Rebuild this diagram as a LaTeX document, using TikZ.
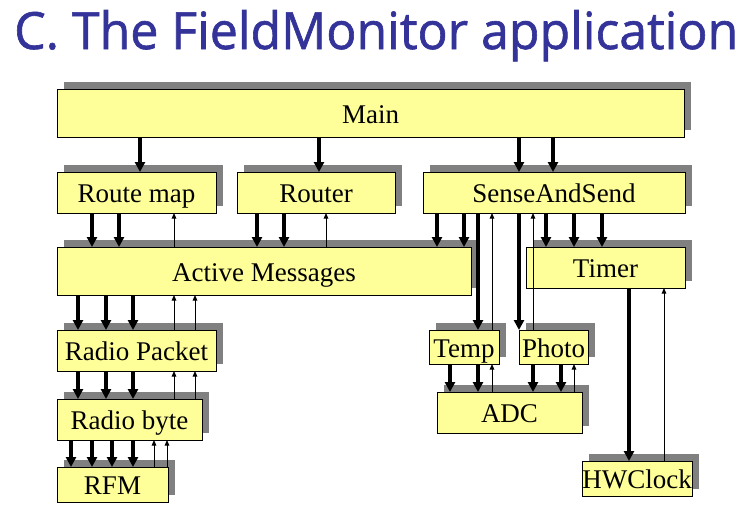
\documentclass[tikz,border=0pt]{standalone}
\usepackage{fontspec}
\setmainfont{Liberation Serif}
\newfontfamily\titlefont[FakeBold=1.2]{Open Sans}
\usetikzlibrary{arrows.meta,shadows}
\definecolor{boxyellow}{RGB}{255,255,153}
\definecolor{shadowgray}{RGB}{128,128,128}
\definecolor{titleblue}{RGB}{51,51,153}
\begin{document}
\begin{tikzpicture}[x=1pt,y=-1pt,
  box/.style={draw=black, line width=0.8pt, fill=boxyellow, inner sep=0pt, outer sep=0pt,
    anchor=north west, text height=20pt, text depth=0pt,
    font=\fontsize{27}{32}\selectfont,
    drop shadow={shadow xshift=7pt, shadow yshift=7pt, fill=shadowgray, opacity=1}},
  down/.style={line width=3.3pt, -{Triangle[length=10pt,width=10pt]}},
  up/.style={line width=1pt, -{Triangle[length=5.5pt,width=4.5pt]}},
]
\useasboundingbox[fill=white] (0,0) rectangle (746,515);

\node[anchor=base west, inner sep=0pt, text=titleblue] (title) at (14,49)
  {\resizebox{724pt}{39pt}{\titlefont C. The FieldMonitor application}};

\node[box, minimum width=627pt, minimum height=48pt] (main)    at (57,89)   {Main};
\node[box, minimum width=159pt, minimum height=41pt] (rmap)    at (57,172)  {Route map};
\node[box, minimum width=158pt, minimum height=41pt] (router)  at (237,172) {Router};
\node[box, minimum width=262pt, minimum height=41pt] (sas)     at (423,172) {SenseAndSend};
\node[box, minimum width=414pt, minimum height=48pt] (am)      at (57,247)  {Active Messages};
\node[box, minimum width=159pt, minimum height=41pt] (timer)   at (526,247) {Timer};
\node[box, minimum width=159pt, minimum height=41pt] (rpkt)    at (57,330)  {Radio Packet};
\node[box, minimum width=145pt, minimum height=41pt] (rbyte)   at (57,399)  {Radio byte};
\node[box, minimum width=111pt, minimum height=35pt] (rfm)     at (57,467)  {RFM};
\node[box, minimum width=70pt,  minimum height=34pt] (temp)    at (429,330) {Temp};
\node[box, minimum width=69pt,  minimum height=34pt] (photo)   at (519,330) {Photo};
\node[box, minimum width=145pt, minimum height=41pt] (adc)     at (437,392) {ADC};
\node[box, minimum width=110pt, minimum height=35pt] (hwclock) at (582,461) {HWClock};

% Main -> children
\draw[down] (140,0 |- main.south) -- (140,0 |- rmap.north);
\draw[down] (319,0 |- main.south) -- (319,0 |- router.north);
\foreach \x in {519,553} \draw[down] (\x,0 |- main.south) -- (\x,0 |- sas.north);

% Route map / Router <-> Active Messages
\foreach \x in {92,119} \draw[down] (\x,0 |- rmap.south) -- (\x,0 |- am.north);
\draw[up] (174,0 |- am.north) -- (174,0 |- rmap.south);
\foreach \x in {257,284} \draw[down] (\x,0 |- router.south) -- (\x,0 |- am.north);
\draw[up] (326,0 |- am.north) -- (326,0 |- router.south);

% SenseAndSend -> others
\foreach \x in {437,464} \draw[down] (\x,0 |- sas.south) -- (\x,0 |- am.north);
\draw[down] (478,0 |- sas.south) -- (478,0 |- temp.north);
\draw[up] (492,0 |- temp.north) -- (492,0 |- sas.south);
\draw[down] (519,0 |- sas.south) -- (519,0 |- photo.north);
\draw[up] (533,0 |- photo.north) -- (533,0 |- sas.south);
\foreach \x in {546,574,602} \draw[down] (\x,0 |- sas.south) -- (\x,0 |- timer.north);

% Timer <-> HWClock
\draw[down] (629,0 |- timer.south) -- (629,0 |- hwclock.north);
\draw[up] (664,0 |- hwclock.north) -- (664,0 |- timer.south);

% Radio stack
\foreach \x in {78,106,133} \draw[down] (\x,0 |- am.south) -- (\x,0 |- rpkt.north);
\foreach \x in {174,195} \draw[up] (\x,0 |- rpkt.north) -- (\x,0 |- am.south);
\foreach \x in {78,106,133} \draw[down] (\x,0 |- rpkt.south) -- (\x,0 |- rbyte.north);
\foreach \x in {174,195} \draw[up] (\x,0 |- rbyte.north) -- (\x,0 |- rpkt.south);
\foreach \x in {71,92,112,133} \draw[down] (\x,0 |- rbyte.south) -- (\x,0 |- rfm.north);
\foreach \x in {154,167} \draw[up] (\x,0 |- rfm.north) -- (\x,0 |- rbyte.south);

% Sensors -> ADC
\foreach \x in {450,478} \draw[down] (\x,0 |- temp.south) -- (\x,0 |- adc.north);
\draw[up] (492,0 |- adc.north) -- (492,0 |- temp.south);
\foreach \x in {533,561} \draw[down] (\x,0 |- photo.south) -- (\x,0 |- adc.north);
\draw[up] (574,0 |- adc.north) -- (574,0 |- photo.south);
\end{tikzpicture}
\end{document}
